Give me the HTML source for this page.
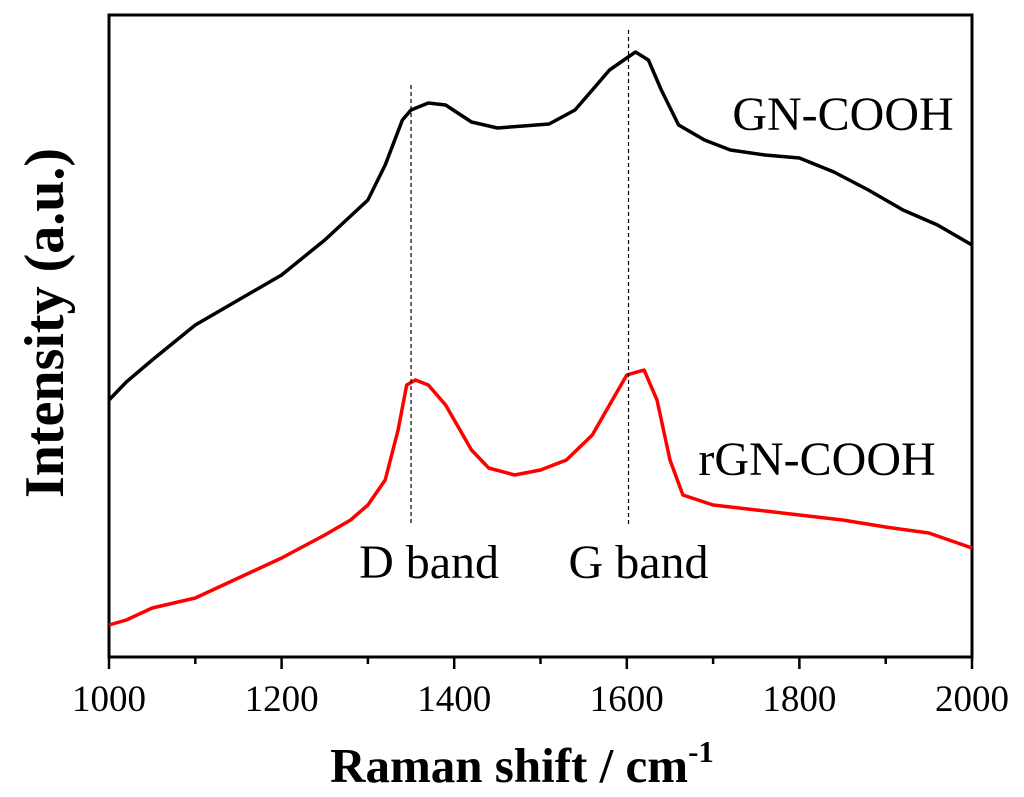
<!DOCTYPE html>
<html><head><meta charset="utf-8"><style>
html,body{margin:0;padding:0;background:#fff;}
svg{display:block;font-family:"Liberation Serif",serif;}
</style></head><body>
<svg id="chart" width="1024" height="797">
<g id="g"></g>
</svg>
<script>
const categories = [1000,1020,1050,1100,1150,1200,1250,1300,1320,1340,1350,1370,1390,1420,1450,1480,1510,1540,1560,1580,1600,1610,1625,1640,1660,1690,1720,1760,1800,1840,1880,1920,1960,2000];
const gnValues = [257,275,297,332,357,382,417,457,492,537,547,554,552,535,529,531,533,547,567,587,599,605,597,567,532,517,507,502,499,485,467,447,432,412];
const rgnX = [1000,1020,1050,1100,1150,1200,1250,1280,1300,1320,1335,1345,1355,1370,1390,1420,1440,1470,1500,1530,1560,1580,1600,1620,1635,1650,1665,1700,1750,1800,1850,1900,1950,2000];
const rgnValues = [32,37,49,59,79,99,122,137,152,177,227,272,277,272,252,207,189,182,187,197,222,252,282,287,257,197,162,152,147,142,137,130,124,109];
const xTicks = [1000,1200,1400,1600,1800,2000];
const xMinor = [1100,1300,1500,1700,1900];
const bandPositions = [1350,1602];
const bandLabels = ["D band","G band"];

const NS="http://www.w3.org/2000/svg";
const g=document.getElementById('g');
const L=109,R=972,T=15,B=657;
const xs=v=>L+(v-1000)/1000*(R-L);
const ys=v=>B-v/642*(B-T);
function mk(t,a){const e=document.createElementNS(NS,t);for(const k in a)e.setAttribute(k,a[k]);g.appendChild(e);return e;}

let box=mk('rect',{x:L,y:T,width:R-L,height:B-T,fill:'none',stroke:'#000','stroke-width':3});



xTicks.forEach(v=>{
  let t=mk('line',{x1:xs(v),x2:xs(v),y1:B,y2:B+12,stroke:'#000','stroke-width':2.5});
  
  
  let l=mk('text',{x:xs(v),y:711,'text-anchor':'middle','font-size':37});
  l.textContent=v;
  
  
});
xMinor.forEach(v=>{
  let t=mk('line',{x1:xs(v),x2:xs(v),y1:B,y2:B+7,stroke:'#000','stroke-width':2.5});
  
  
});

function path(xa,va,color,name){
  let d=xa.map((x,i)=>(i?'L':'M')+xs(x).toFixed(1)+','+ys(va[i]).toFixed(1)).join('');
  let p=mk('path',{d:d,fill:'none',stroke:color,'stroke-width':3.5,'stroke-linejoin':'round'});
  
  
}
path(categories,gnValues,'#000','gn-cooh-line');
path(rgnX,rgnValues,'#f00','rgn-cooh-line');

const bandTops=[85,30];
const labelOffsets=[-2,-10];
bandPositions.forEach((v,i)=>{
  let l=mk('line',{x1:xs(v),x2:xs(v),y1:bandTops[i],y2:525,stroke:'#000','stroke-width':1.2,'stroke-dasharray':'4,3'});
  
  
  let t=mk('text',{x:xs(v)+labelOffsets[i]+20,y:578,'text-anchor':'middle','font-size':48});
  t.textContent=bandLabels[i];
  
  
});

let a=mk('text',{x:843,y:130,'text-anchor':'middle','font-size':48});a.textContent='GN-COOH';


let b=mk('text',{x:817,y:475,'text-anchor':'middle','font-size':48});b.textContent='rGN-COOH';



let xt=mk('text',{x:522,y:782,'text-anchor':'middle','font-size':49,'font-weight':'bold'});
xt.innerHTML='Raman shift / cm<tspan dy="-20" font-size="31">-1</tspan>';


let yt=mk('text',{x:0,y:0,'text-anchor':'middle','font-size':56,'font-weight':'bold',transform:'translate(63,323) rotate(-90)'});
yt.textContent='Intensity (a.u.)';


</script>
</body></html>
